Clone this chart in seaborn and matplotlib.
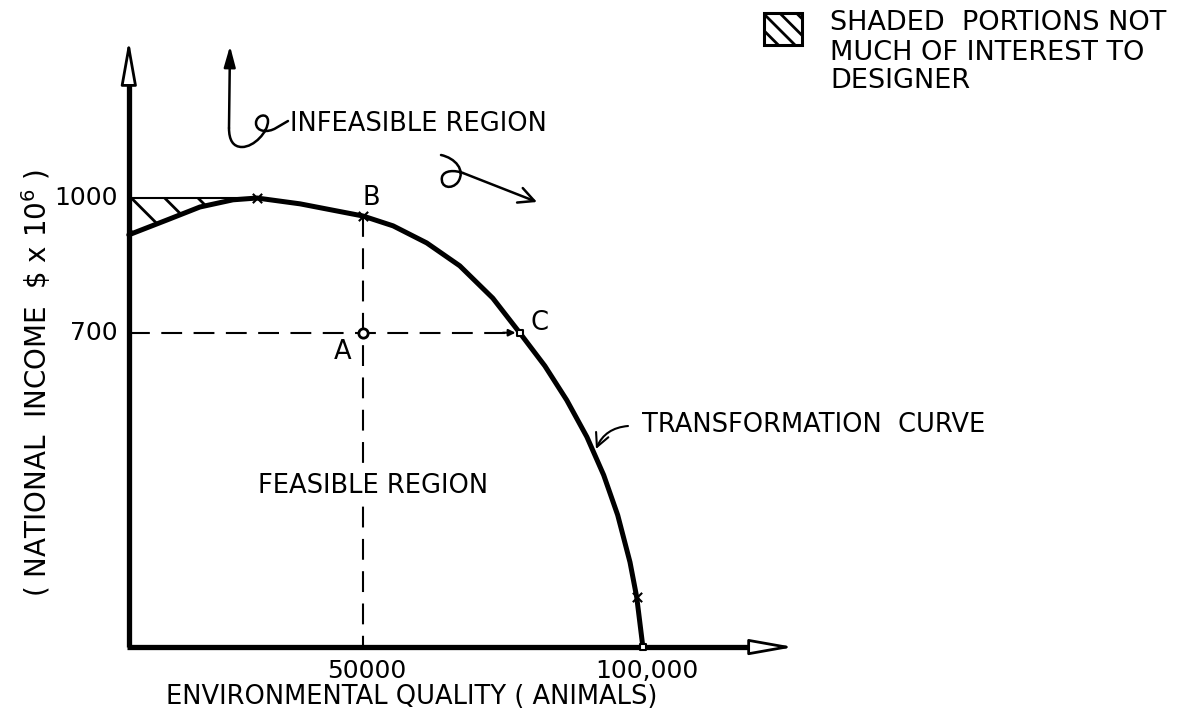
import matplotlib
matplotlib.use("Agg")
import matplotlib.pyplot as plt
from matplotlib.path import Path
from matplotlib.patches import PathPatch, Rectangle
import seaborn as sns

sns.set_theme(style="white")
plt.rcParams["font.family"] = ["DejaVu Sans"]
plt.rcParams["text.color"] = "black"
plt.rcParams["hatch.linewidth"] = 2.0
plt.rcParams["hatch.color"] = "black"

# ---- values ----
curve_x = [8200, 15000, 20900, 26800, 31100, 38800, 44600, 50000, 55400, 61400, 67300,
           73200, 78000, 82500, 86400, 90000, 93000, 95500, 97700, 98900, 100000]
curve_y = [918, 951, 980, 996, 1000, 987, 973, 960, 938, 900, 849,
           777, 700, 626, 550, 468, 383, 294, 189, 111, 0]
x_ticks = [50000, 100000]
x_tick_labels = ["50000", "100,000"]
y_ticks = [1000, 700]
y_tick_labels = ["1000", "700"]
origin_x = 8200
x_axis_end = 127000
y_axis_end = 1352
point_a = (50000, 700)
point_b = (50000, 960)
point_c = (78000, 700)
curve_end = (100000, 0)
cross_x = [31100, 50000, 98900]
cross_y = [1000, 960, 111]
n_shaded = 5          # first curve points under the hatched band (up to the peak)

W, H = 1190, 718
FS = 18.5


def fp(x, y):
    # pixel position (from top-left) -> figure fraction
    return x / W, 1 - y / H


fig = plt.figure(figsize=(W / 100, H / 100), dpi=100)
ax = fig.add_axes([0, 0, 1, 1])
ax.set_xlim(-14800, 197700)
ax.set_ylim(-158, 1441)
ax.axis("off")

# ---- axes drawn as arrows ----
ax.plot([origin_x, origin_x], [0, y_axis_end - 75], color="black", lw=3.8,
        solid_capstyle="butt")
ax.plot([origin_x - 300, x_axis_end - 6500], [0, 0], color="black", lw=3.8,
        solid_capstyle="butt")
head = dict(arrowstyle="-|>,head_length=1.35,head_width=0.24", mutation_scale=20,
            fc="white", ec="black", lw=2.0, shrinkA=0, shrinkB=0)
ax.annotate("", xy=(origin_x, y_axis_end), xytext=(origin_x, y_axis_end - 120),
            arrowprops=head)
ax.annotate("", xy=(x_axis_end, 0), xytext=(x_axis_end - 9000, 0), arrowprops=head)

# ---- hatched band above the rising part of the curve ----
ax.fill_between(curve_x[:n_shaded], curve_y[:n_shaded], 1000, facecolor="none",
                edgecolor="black", hatch="\\", linewidth=0)
ax.plot([origin_x, curve_x[n_shaded - 1]], [1000, 1000], color="black", lw=1.5)

# ---- transformation curve ----
sns.lineplot(x=curve_x, y=curve_y, ax=ax, color="black", linewidth=3.6,
             sort=False, estimator=None, solid_joinstyle="round")

# ---- dashed guides ----
dash = (0, (10, 5.5))
ax.plot([origin_x, point_c[0] - 1500], [point_a[1], point_c[1]], color="black",
        lw=1.5, ls=dash)
ax.annotate("", xy=point_c, xytext=(point_c[0] - 3000, point_c[1]),
            arrowprops=dict(arrowstyle="-|>", mutation_scale=10, color="black",
                            lw=1.5, shrinkA=0, shrinkB=3))
ax.plot([point_b[0], point_b[0]], [point_b[1], 0], color="black", lw=1.5, ls=dash)

# ---- point markers ----
sns.scatterplot(x=[point_a[0]], y=[point_a[1]], ax=ax, s=45, color="white",
                edgecolor="black", linewidth=2, zorder=5)
sns.scatterplot(x=[point_c[0], curve_end[0]], y=[point_c[1], curve_end[1]], ax=ax,
                marker="s", s=22, color="white", edgecolor="black", linewidth=1.5,
                zorder=5)
ax.scatter(cross_x, cross_y, marker="x", s=45, color="black", linewidth=1.5, zorder=5)

# ---- tick labels ----
for xt, lab in zip(x_ticks, x_tick_labels):
    ax.annotate(lab, xy=(xt, 0), xytext=(3, -17), textcoords="offset points",
                ha="center", va="center", fontsize=18)
for yt, lab in zip(y_ticks, y_tick_labels):
    ax.annotate(lab, xy=(origin_x, yt), xytext=(-8, 0), textcoords="offset points",
                ha="right", va="center", fontsize=18)

# ---- axis titles ----
fig.text(*fp(166, 697), "ENVIRONMENTAL QUALITY ( ANIMALS)", ha="left", va="center",
         fontsize=FS)
fig.text(*fp(36, 383), "( NATIONAL  INCOME  \\$ x 10$^{6}$ )", rotation=90,
         ha="center", va="center", fontsize=20)

# ---- point letters and region labels ----
fig.text(*fp(371, 198), "B", ha="center", va="center", fontsize=FS)
fig.text(*fp(539, 323), "C", ha="center", va="center", fontsize=FS)
fig.text(*fp(343, 352), "A", ha="center", va="center", fontsize=FS)
fig.text(*fp(290, 124), "INFEASIBLE REGION", ha="left", va="center", fontsize=FS)
fig.text(*fp(258, 486), "FEASIBLE REGION", ha="left", va="center", fontsize=FS,
         bbox=dict(facecolor="white", edgecolor="none", pad=1), zorder=6)
fig.text(*fp(642, 425), "TRANSFORMATION  CURVE", ha="left", va="center", fontsize=FS)


# ---- hand-drawn arrows around the infeasible label ----
def pix_path(verts, codes):
    return PathPatch(Path([fp(x, y) for x, y in verts], codes), fill=False,
                     lw=1.8, ec="black", transform=fig.transFigure,
                     capstyle="round", joinstyle="round")


M, L, C4 = Path.MOVETO, Path.LINETO, Path.CURVE4
hook = [(288, 121), (276, 128),
        (268, 133), (256, 132), (256, 123),
        (256, 115), (268, 112), (268, 121),
        (268, 132), (254, 147), (242, 147),
        (233, 147), (229, 140), (229, 128)]
fig.add_artist(pix_path(hook, [M, L] + [C4] * 12))
ax.annotate("", xy=fp(230, 46), xytext=fp(229, 128), xycoords="figure fraction",
            arrowprops=dict(arrowstyle="-|>,head_length=0.9,head_width=0.25",
                            mutation_scale=14, color="black", lw=1.8, shrinkA=0,
                            shrinkB=0))

curl = [(441, 155),
        (455, 158), (466, 170), (458, 182),
        (452, 190), (440, 188), (442, 177),
        (444, 170), (455, 170), (463, 173)]
fig.add_artist(pix_path(curl, [M] + [C4] * 9))
ax.annotate("", xy=fp(537, 202), xytext=fp(463, 173), xycoords="figure fraction",
            arrowprops=dict(arrowstyle="->,head_length=0.7,head_width=0.35",
                            mutation_scale=16, color="black", lw=1.8, shrinkA=0,
                            shrinkB=0))

# leader from "TRANSFORMATION CURVE" to the curve
ax.annotate("", xy=fp(596, 449), xytext=fp(628, 426), xycoords="figure fraction",
            arrowprops=dict(arrowstyle="->,head_length=0.6,head_width=0.3",
                            mutation_scale=16, color="black", lw=1.5, shrinkA=0,
                            shrinkB=0, connectionstyle="arc3,rad=0.3"))

# ---- legend in the top-right corner ----
bx, by = fp(764, 45)
fig.add_artist(Rectangle((bx, by), 38 / W, 32 / H, transform=fig.transFigure,
                         fill=False, hatch="\\\\", lw=2.2, edgecolor="black"))
fig.text(*fp(830, 23), "SHADED  PORTIONS NOT", ha="left", va="center", fontsize=19.5)
fig.text(*fp(830, 53), "MUCH OF INTEREST TO", ha="left", va="center", fontsize=19.5)
fig.text(*fp(830, 81), "DESIGNER", ha="left", va="center", fontsize=19.5)

fig.savefig("out.png", dpi=100, facecolor="white")
